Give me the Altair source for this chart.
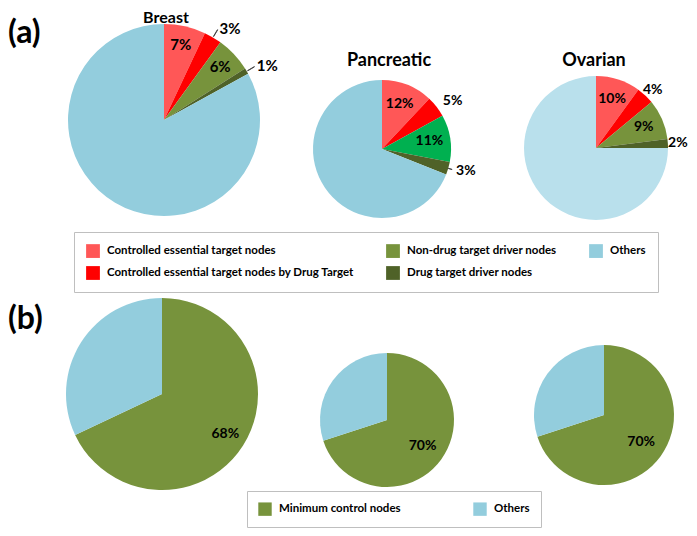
import altair as alt
import pandas as pd

# ---------------- data ----------------
cats_a = [
    "Controlled essential target nodes",
    "Controlled essential target nodes by Drug Target",
    "Non-drug target driver nodes",
    "Drug target driver nodes",
    "Others",
]
breast_a = [7, 3, 6, 1, 83]
pancreatic_a = [12, 5, 11, 3, 69]
ovarian_a = [10, 4, 9, 2, 75]

cats_b = ["Minimum control nodes", "Others"]
breast_b = [68, 32]
pancreatic_b = [70, 30]
ovarian_b = [70, 30]

titles = ["Breast", "Pancreatic", "Ovarian"]
panel_tags = ["(a)", "(b)"]

# label placement per slice (inside / outside / none)
place_a = ["in", "out", "in", "out", "none"]
place_b = ["in", "none"]

# ---------------- styles ----------------
colors_breast_a = ["#FF5757", "#FF0000", "#77933C", "#4F6228", "#93CDDD"]
colors_pancreatic_a = ["#FF5757", "#FF0000", "#00B050", "#4F6228", "#93CDDD"]
colors_ovarian_a = ["#FF5757", "#FF0000", "#77933C", "#4F6228", "#B9E0EC"]
colors_b = ["#77933C", "#93CDDD"]

FONT = "Lato"
tscale = alt.Scale(domain=[0, 100])


def pie(values, cats, places, colors, cx, cy, r, r_in, r_out, fs,
        leaders=(), lead_r=(0, 0), legend=None, dx_out=9):
    df = pd.DataFrame({
        "cat": cats,
        "value": values,
        "idx": list(range(len(cats))),
        "place": places,
        "lead": [i in leaders for i in range(len(cats))],
    })
    cscale = alt.Scale(domain=cats, range=colors)
    base = (
        alt.Chart(df)
        .transform_stack(stack="value", groupby=[], as_=["v0", "v1"],
                         sort=[alt.SortField("idx")])
        .transform_calculate(
            mid="(datum.v0 + datum.v1) / 2",
            mid2="(datum.v0 + datum.v1) / 2 + 0.05",
            label="datum.value + '%'",
        )
    )
    arcs = base.mark_arc().encode(
        theta=alt.Theta("v0:Q", scale=tscale),
        theta2="v1:Q",
        radius=alt.value(r),
        color=alt.Color("cat:N", scale=cscale, legend=legend),
        x=alt.value(cx),
        y=alt.value(cy),
    )
    inside = base.transform_filter("datum.place == 'in'").mark_text(
        font=FONT, fontWeight="bold", fontSize=fs, color="black"
    ).encode(
        theta=alt.Theta("mid:Q", scale=tscale),
        radius=alt.value(r_in),
        text="label:N",
        x=alt.value(cx),
        y=alt.value(cy),
    )
    layers = [arcs, inside]
    if "out" in places:
        outside = base.transform_filter("datum.place == 'out'").mark_text(
            font=FONT, fontWeight="bold", fontSize=fs, color="black", dx=dx_out
        ).encode(
            theta=alt.Theta("mid:Q", scale=tscale),
            radius=alt.value(r_out),
            text="label:N",
            x=alt.value(cx),
            y=alt.value(cy),
        )
        layers.append(outside)
    if leaders:
        lead = base.transform_filter("datum.lead").mark_arc(
            fillOpacity=0, stroke="#404040", strokeWidth=0.9
        ).encode(
            theta=alt.Theta("mid:Q", scale=tscale),
            theta2="mid2:Q",
            radius=alt.value(lead_r[1]),
            radius2=alt.value(lead_r[0]),
            x=alt.value(cx),
            y=alt.value(cy),
        )
        layers.append(lead)
    return layers


def label(txt, x, y, size, align="center"):
    return alt.Chart(pd.DataFrame({"t": [txt]})).mark_text(
        font=FONT, fontWeight="bold", fontSize=size, align=align,
        baseline="middle", color="black"
    ).encode(text="t:N", x=alt.value(x), y=alt.value(y))


legend_a = alt.Legend(
    title=None, orient="none", legendX=66, legendY=224, columns=3,
    symbolType="square", symbolSize=190, symbolStrokeWidth=0,
    labelFont=FONT, labelFontWeight="bold", labelFontSize=11.5, labelLimit=0,
    labelOffset=7, labelColor="black", columnPadding=32, rowPadding=8,
    padding=12, strokeColor="#BFBFBF",
)
legend_b = alt.Legend(
    title=None, orient="none", legendX=239, legendY=483, columns=2,
    symbolType="square", symbolSize=180, symbolStrokeWidth=0,
    labelFont=FONT, labelFontWeight="bold", labelFontSize=11.5, labelLimit=0,
    labelOffset=7, labelColor="black", columnPadding=72, padding=11,
    strokeColor="#BFBFBF",
)

layers = []
layers += pie(breast_a, cats_a, place_a, colors_breast_a, 156, 112, 96, 77, 106, 15,
              leaders=(1, 3), lead_r=(97, 105), legend=legend_a, dx_out=12)
layers += pie(pancreatic_a, cats_a, place_a, colors_pancreatic_a, 374, 141, 69, 48, 78, 14,
              leaders=(3,), lead_r=(69, 73), legend=None)
layers += pie(ovarian_a, cats_a, place_a, colors_ovarian_a, 588, 140, 72, 52, 80, 14,
              legend=None, dx_out=2)
layers += pie(breast_b, cats_b, place_b, colors_b, 154, 386, 96, 75, 0, 14,
              legend=legend_b)
layers += pie(pancreatic_b, cats_b, place_b, colors_b, 379, 412, 67, 44, 0, 14,
              legend=None)
layers += pie(ovarian_b, cats_b, place_b, colors_b, 596, 407, 70, 46, 0, 14,
              legend=None)

layers += [
    label(titles[0], 158, 10, 16),
    label(titles[1], 381, 53, 18),
    label(titles[2], 586, 53, 18),
    label(panel_tags[0], 0, 25, 32, align="left"),
    label(panel_tags[1], 0, 311, 32, align="left"),
]

chart = (
    alt.layer(*layers)
    .resolve_scale(color="independent", theta="independent")
    .properties(width=681, height=520, padding=0,
                autosize=alt.AutoSizeParams(type="none"))
    .configure_view(strokeWidth=0)
)

chart.save("out.html", embed_options={"renderer": "svg", "actions": False})
